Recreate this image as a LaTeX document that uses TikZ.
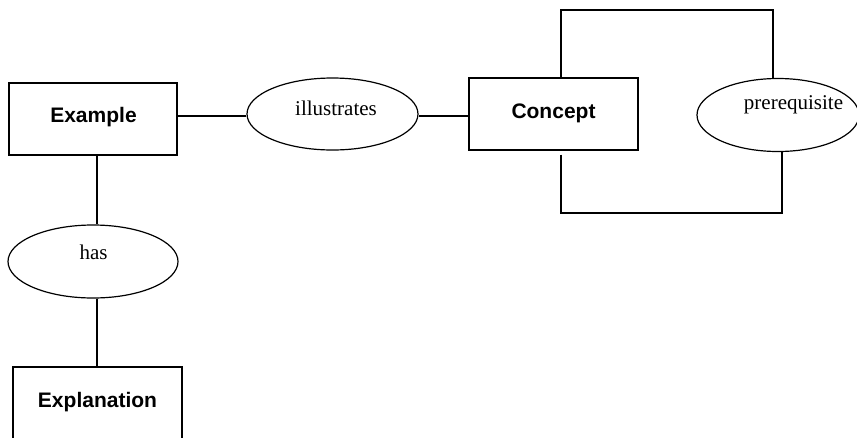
\documentclass[tikz,border=0pt]{standalone}
\usepackage{fontspec}
\setmainfont{Liberation Serif}
\newfontfamily\arialfont{Liberation Sans}
\usetikzlibrary{shapes.geometric}
\begin{document}
\begin{tikzpicture}[x=1pt,y=-1pt,
  ent/.style={draw, line width=1.2pt, rectangle, inner sep=0pt, minimum height=72pt},
  rel/.style={draw, line width=1.2pt, ellipse, inner sep=0pt},
  conn/.style={line width=1.2pt},
  etext/.style={font=\arialfont\bfseries\fontsize{21}{21}\selectfont, anchor=base, inner sep=0pt},
  rtext/.style={font=\fontsize{21}{21}\selectfont, anchor=base, inner sep=0pt}]
\useasboundingbox (0,0) rectangle (857,437);
\clip (-1,-1) rectangle (858,438);
% shapes
\node[ent, minimum width=168pt] (example) at (93,119) {};
\node[rel, minimum width=171pt, minimum height=72pt] (illus) at (332.5,114) {};
\node[ent, minimum width=169pt] (concept) at (553.5,114) {};
\node[rel, minimum width=162pt, minimum height=73pt] (prereq) at (778,115) {};
\node[rel, minimum width=170pt, minimum height=73pt] (has) at (93,261.5) {};
\node[ent, minimum width=169pt, minimum height=78pt] (expl) at (97.5,406) {};
% texts
\node[etext] (extxt) at (93.5,122) {Example};
\node[etext] (cotxt) at (553.5,118) {Concept};
\node[etext] (eptxt) at (97.5,407) {Explanation};
\node[rtext] (iltxt) at (336,115) {illustrates};
\node[rtext] (hastxt) at (93.5,259) {has};
\node[rtext] (prtxt) at (793.5,109) {prerequisite};
% connectors
\draw[conn] (example.east |- 0,116) -- (illus.west |- 0,116);
\draw[conn] (illus.east |- 0,116) -- (concept.west |- 0,116);
\coordinate (ex) at (97,0);
\draw[conn] (ex |- example.south) -- (ex |- has.north);
\draw[conn] (ex |- has.south) -- (ex |- expl.north);
\coordinate (lt1) at (561,10);
\coordinate (lt2) at (773,10);
\draw[conn] (lt1 |- concept.north) -- (lt1) -- (lt2) -- (lt2 |- prereq.north);
\coordinate (lb1) at (561,213);
\coordinate (lb2) at (782,213);
\draw[conn] ([yshift=-4pt]lb1 |- concept.south) -- (lb1) -- (lb2) -- (lb2 |- prereq.south);
\end{tikzpicture}
\end{document}
